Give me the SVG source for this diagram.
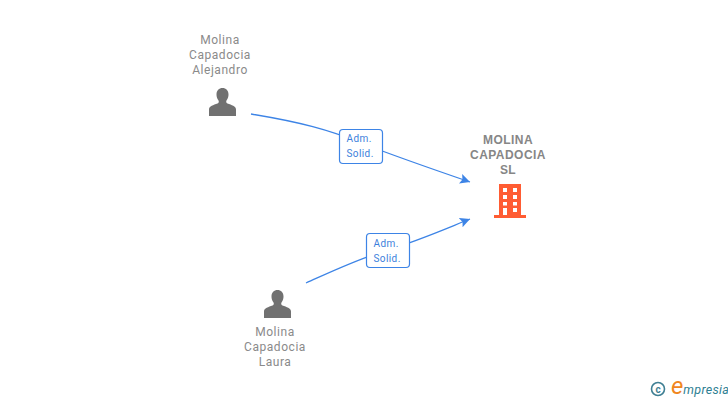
<svg xmlns="http://www.w3.org/2000/svg" width="728" height="400" viewBox="0 0 728 400">
<style>
text{font-family:Roboto,"Liberation Sans",sans-serif}
.n{font-size:12px;fill:#8a8a8a;text-anchor:middle;letter-spacing:.55px}
.c{font-family:"Liberation Sans",Arial,sans-serif;font-size:12px;font-weight:bold;fill:#868686;text-anchor:middle;letter-spacing:.45px}
.l{font-size:10px;fill:#3d7fdc;letter-spacing:.4px}
.e{fill:none;stroke:#3d84e6;stroke-width:1.3}
.b{fill:#fff;stroke:#3d84e6;stroke-width:1.2}
.p{fill:#717171}
.o{fill:#ff5c33}
</style>
<defs>
<marker id="a" markerUnits="userSpaceOnUse" markerWidth="12" markerHeight="12" refX="10" refY="5" orient="auto"><path d="M0 0L10 5L0 10L2 5Z" fill="#3d84e6"/></marker>
<path id="u" d="M-13.500 0V-6.500C-13.500-10-9-11-5-12.500C-3.500-13.200-3.500-14.500-4-15.500C-5.500-17.500-6-19.500-6-21.500C-6-25.500-3.500-28 0-28C3.500-28 6-25.500 6-21.500C6-19.500 5.500-17.500 4-15.500C3.500-14.500 3.500-13.200 5-12.500C9-11 13.500-10 13.500-6.500V0Z"/>
</defs>
<g id="connectors">
<path class="e" marker-end="url(#a)" d="M251 114C300 122 330 130 361 143C400 158 435 170 470 182"/>
<path class="e" marker-end="url(#a)" d="M306 283C335 270 360 258 388 250C420 240 445 229 470 219"/>
</g>
<g id="edge-label-1"><rect class="b" x="339.500" y="129.500" width="43" height="34" rx="3.500"/><text class="l" x="346.500" y="142">Adm.</text><text class="l" x="346.500" y="157">Solid.</text></g>
<g id="edge-label-2"><rect class="b" x="366.500" y="233.500" width="43" height="34" rx="3.500"/><text class="l" x="373.500" y="247">Adm.</text><text class="l" x="373.500" y="262">Solid.</text></g>
<g id="person-alejandro"><text class="n" x="220" y="44">Molina</text><text class="n" x="220" y="59">Capadocia</text><text class="n" x="220" y="74">Alejandro</text><use href="#u" class="p" x="222.500" y="116"/></g>
<g id="person-laura"><text class="n" x="275" y="336">Molina</text><text class="n" x="275" y="351">Capadocia</text><text class="n" x="275" y="366">Laura</text><use href="#u" class="p" x="277.500" y="318"/></g>
<g id="company"><text class="c" x="508" y="144">MOLINA</text><text class="c" x="508" y="159">CAPADOCIA</text><text class="c" x="508" y="174">SL</text>
<path class="o" fill-rule="evenodd" d="M499 184H521V215H526V218H494V215H499ZM503 188V192H507V188ZM513 188V192H517V188ZM503 195V199H507V195ZM513 195V199H517V195ZM503 202V205.500H507V202ZM513 202V205.500H517V202ZM503 208V215H507V208ZM513 208V212H517V208Z"/></g>
<g id="brand"><circle cx="658" cy="389" r="6.500" fill="none" stroke="#3f7f93" stroke-width="1.600"/><text x="658" y="392.500" font-size="10" font-weight="bold" fill="#3f7f93" text-anchor="middle">c</text>
<text x="671" y="394" font-family="Liberation Serif,serif" font-style="italic" font-size="12.500" fill="#2f7f93"><tspan font-size="24" fill="#f0861e">e</tspan><tspan letter-spacing=".3">mpresia</tspan></text></g>
</svg>
